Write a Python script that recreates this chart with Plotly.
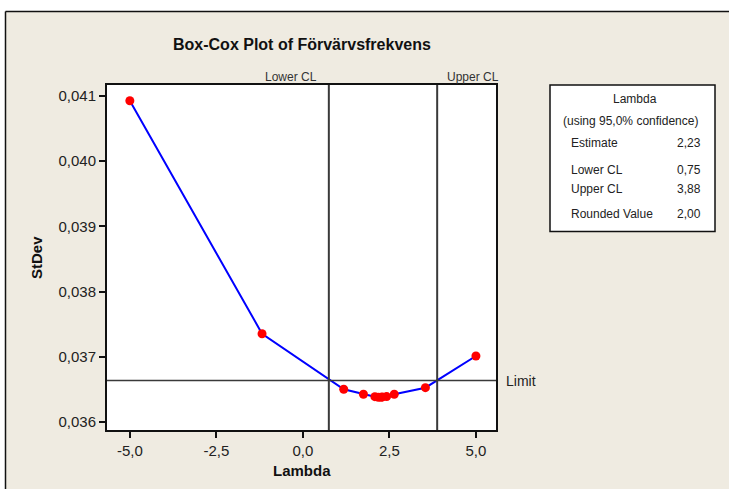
import plotly.graph_objects as go

# Box-Cox search points: lambda vs. standard deviation of transformed data
lambdas = [-5.0, -1.18, 1.18, 1.75, 2.08, 2.18, 2.26, 2.30, 2.42, 2.64, 3.54, 5.0]
stdevs = [0.040928, 0.037354, 0.036502, 0.036425, 0.036388, 0.036380, 0.036379,
          0.036385, 0.036390, 0.036425, 0.036526, 0.037012]

lower_cl = 0.75
upper_cl = 3.88
estimate = 2.23
rounded_value = 2.00
limit = 0.036637

x_tickvals = [-5.0, -2.5, 0.0, 2.5, 5.0]
x_ticktext = ["-5,0", "-2,5", "0,0", "2,5", "5,0"]
y_tickvals = [0.036, 0.037, 0.038, 0.039, 0.040, 0.041]
y_ticktext = ["0,036", "0,037", "0,038", "0,039", "0,040", "0,041"]

W, H = 729, 489
L, R, T, B = 107, 496, 85, 430  # plot area in pixels
FONT = "Liberation Sans, Arial, sans-serif"
BEIGE = "#EFEBE1"


def px(x):
    return (x - L) / (R - L)


def py(y):
    return (B - y) / (B - T)


def num(v):
    return f"{v:.2f}".replace(".", ",")


fig = go.Figure()
fig.add_trace(go.Scatter(
    x=lambdas, y=stdevs, mode="lines+markers",
    line=dict(color="#0000FF", width=2),
    marker=dict(color="#FF0000", size=9),
    showlegend=False, cliponaxis=False,
))

shapes = [
    # outer frame
    dict(type="rect", xref="paper", yref="paper", x0=px(0), x1=px(W + 5), y0=py(0), y1=py(11),
         fillcolor="white", line=dict(width=0)),
    dict(type="rect", xref="paper", yref="paper", x0=px(0), x1=px(5), y0=py(0), y1=py(H + 5),
         fillcolor="white", line=dict(width=0)),
    dict(type="line", xref="paper", yref="paper", x0=px(5.5), x1=px(W + 5), y0=py(11.5), y1=py(11.5),
         line=dict(color="#111111", width=1.5)),
    dict(type="line", xref="paper", yref="paper", x0=px(5.5), x1=px(5.5), y0=py(11.5), y1=py(H + 5),
         line=dict(color="#111111", width=1.5)),
    # confidence limits
    dict(type="line", xref="x", yref="paper", x0=lower_cl, x1=lower_cl, y0=0, y1=1,
         line=dict(color="#3A3A3A", width=2)),
    dict(type="line", xref="x", yref="paper", x0=upper_cl, x1=upper_cl, y0=0, y1=1,
         line=dict(color="#3A3A3A", width=2)),
    dict(type="line", xref="paper", yref="y", x0=0, x1=1, y0=limit, y1=limit,
         line=dict(color="#3A3A3A", width=1.5)),
    # summary box
    dict(type="rect", xref="paper", yref="paper", x0=px(550), x1=px(715), y0=py(231.5), y1=py(85),
         fillcolor="white", line=dict(color="#111111", width=1.5)),
]

ann = []


def text(x, y, s, size=12, anchor="center", bold=False, color="#222222"):
    ann.append(dict(
        xref="paper", yref="paper", x=px(x), y=py(y), text=f"<b>{s}</b>" if bold else s,
        showarrow=False, xanchor=anchor, yanchor="middle",
        font=dict(family=FONT, size=size, color=color),
    ))


text(302, 45, "Box-Cox Plot of Förvärvsfrekvens", size=16, bold=True, color="#111111")
text(319, 77, "Lower CL", anchor="right", color="#333333")
text(445, 77, "Upper CL", anchor="left", color="#333333")
text(504, 381, "Limit", size=14, anchor="left", color="#222222")
text(302, 470, "Lambda", size=15, bold=True, color="#111111")
ann.append(dict(xref="paper", yref="paper", x=px(36), y=py(258), text="<b>StDev</b>",
                textangle=-90, showarrow=False, xanchor="center", yanchor="middle",
                font=dict(family=FONT, size=15, color="#111111")))

text(635, 98.5, "Lambda", size=12)
text(630, 121, "(using 95,0% confidence)", size=12)
rows = [("Estimate", estimate, 143), ("Lower CL", lower_cl, 170),
        ("Upper CL", upper_cl, 189), ("Rounded Value", rounded_value, 213.5)]
for label, val, yy in rows:
    text(569, yy, label, size=12, anchor="left")
    text(703, yy, num(val), size=12, anchor="right")

fig.update_layout(
    width=W, height=H,
    margin=dict(l=L, r=W - R, t=T, b=H - B, autoexpand=False),
    paper_bgcolor=BEIGE, plot_bgcolor="white",
    shapes=shapes, annotations=ann,
    font=dict(family=FONT, color="#222222"),
)
fig.update_xaxes(
    range=[-5.66, 5.58], tickvals=x_tickvals, ticktext=x_ticktext,
    showgrid=False, zeroline=False, showline=True, mirror=True,
    linecolor="#111111", linewidth=2, ticks="outside", ticklen=6,
    tickcolor="#111111", tickwidth=1.5, tickfont=dict(size=15, family=FONT, color="#222222"),
)
fig.update_yaxes(
    range=[0.035877, 0.041169], tickvals=y_tickvals, ticktext=y_ticktext,
    showgrid=False, zeroline=False, showline=True, mirror=True,
    linecolor="#111111", linewidth=2, ticks="outside", ticklen=6,
    tickcolor="#111111", tickwidth=1.5, tickfont=dict(size=15, family=FONT, color="#222222"),
)

fig.write_html("out.html")
